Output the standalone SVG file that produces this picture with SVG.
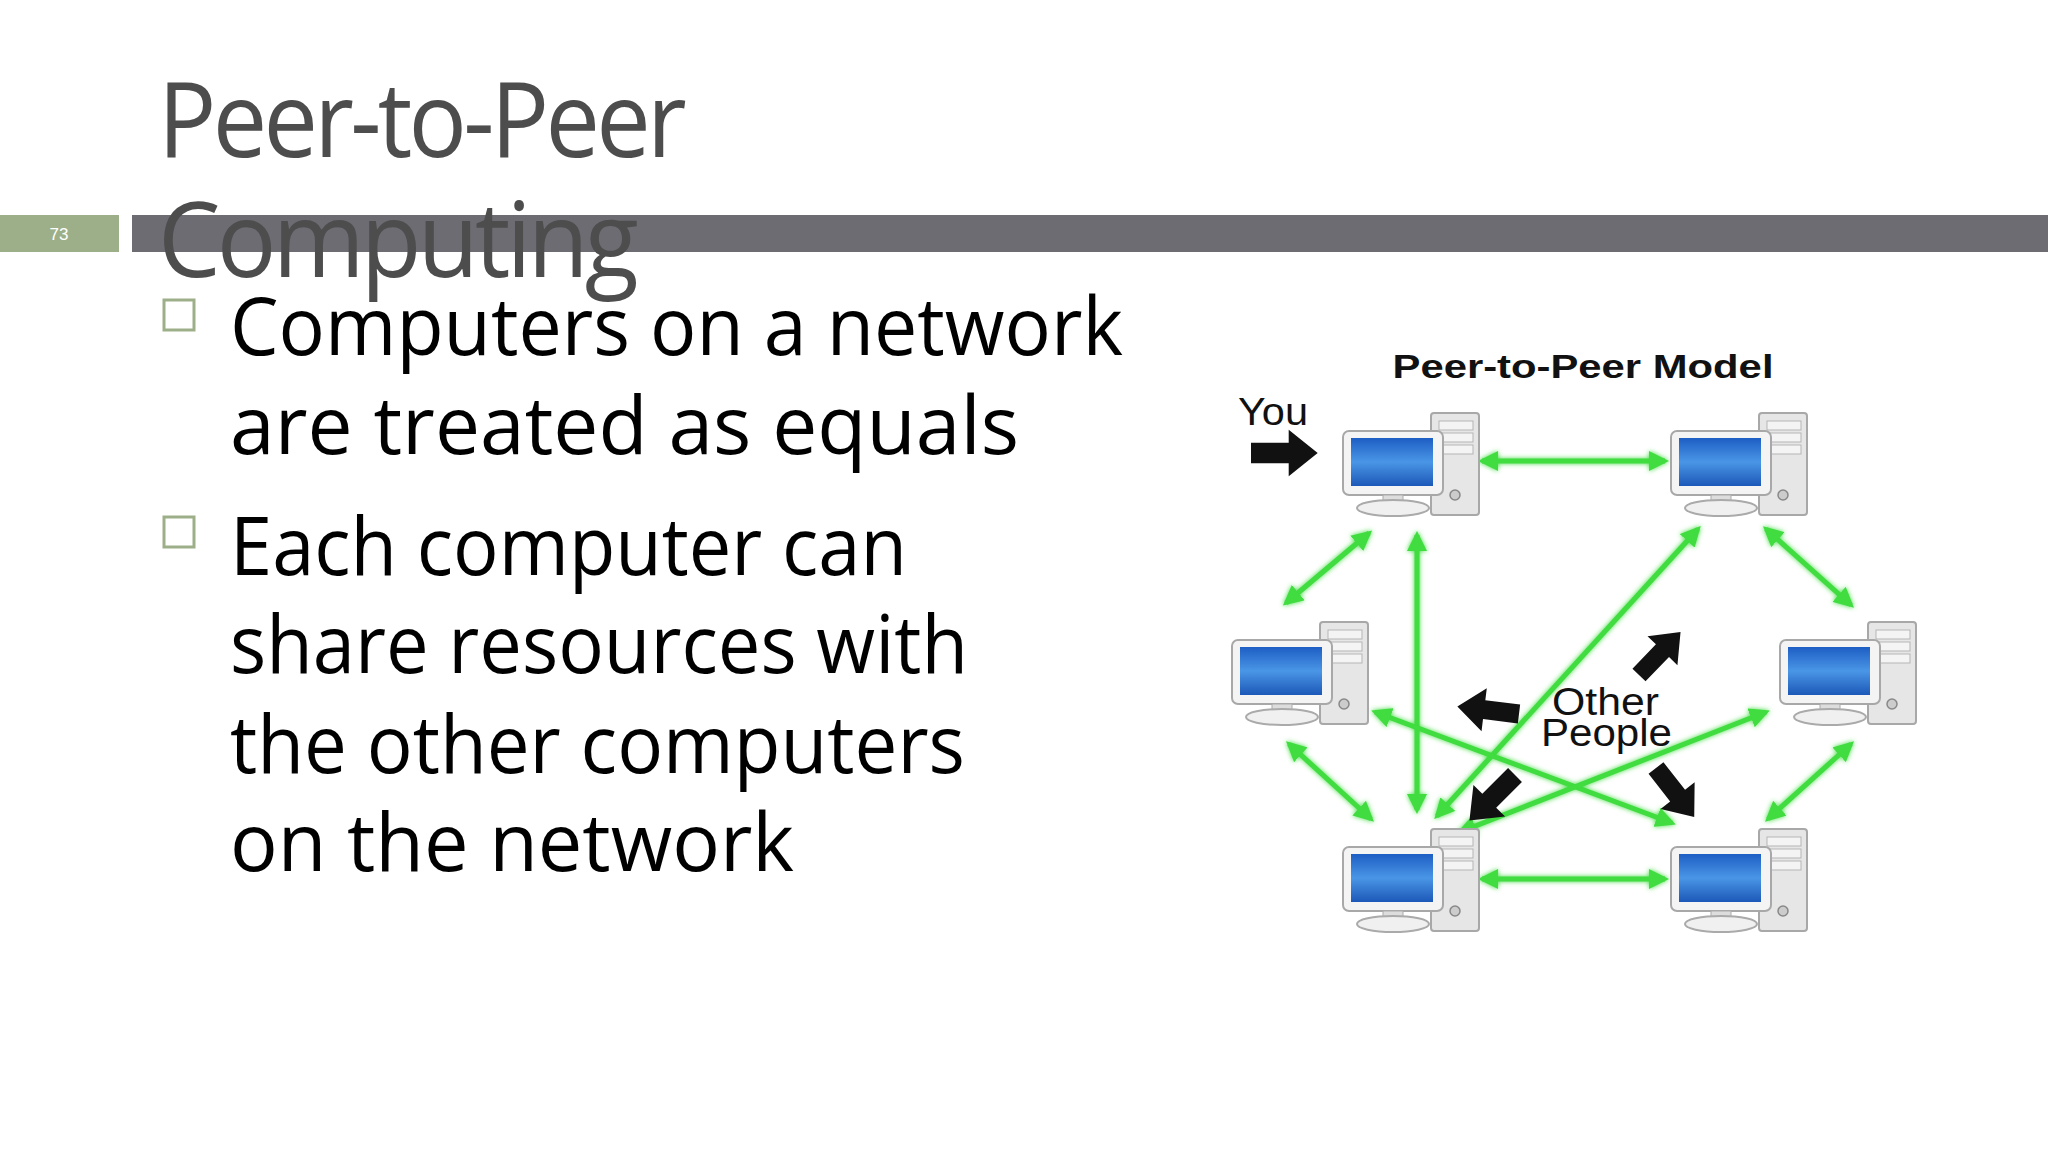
<svg xmlns="http://www.w3.org/2000/svg" width="2048" height="1152" viewBox="0 0 2048 1152">
<style>
.title{font-family:"Open Sans","DejaVu Sans",sans-serif;font-size:104px;fill:#4d4d4d;letter-spacing:-4px}
.body{font-family:"Open Sans","DejaVu Sans",sans-serif;font-size:80px;fill:#000}
.lbl{font-family:"Liberation Sans",Arial,sans-serif;fill:#111}
.g{stroke:#3fdc3f;stroke-width:5;fill:none;marker-start:url(#gh);marker-end:url(#gh)}
.blk{fill:#111}
</style>
<defs>
<marker id="gh" viewBox="0 0 10 10" refX="8" refY="5" markerWidth="4" markerHeight="4" orient="auto-start-reverse"><path d="M0,0 L10,5 L0,10 Z" fill="#3fdc3f"/></marker>
<filter id="glow" x="-20%" y="-20%" width="140%" height="140%"><feGaussianBlur stdDeviation="2.5" result="b"/><feMerge><feMergeNode in="b"/><feMergeNode in="SourceGraphic"/></feMerge></filter>
<linearGradient id="scr" x1="0" y1="0" x2="0" y2="1"><stop offset="0" stop-color="#1d5ec4"/><stop offset="0.5" stop-color="#4a96e6"/><stop offset="1" stop-color="#1c58b8"/></linearGradient>
<path id="fat" d="M0,-7 L26,-7 L26,-16 L46,0 L26,16 L26,7 L0,7 Z"/>
<g id="pc">
<rect x="88" y="0" width="48" height="102" rx="3" fill="#e6e6e6" stroke="#a8a8a8" stroke-width="2"/>
<rect x="96" y="8" width="34" height="9" fill="#f4f4f4" stroke="#b5b5b5"/>
<rect x="96" y="20" width="34" height="9" fill="#f4f4f4" stroke="#b5b5b5"/>
<rect x="96" y="32" width="34" height="9" fill="#f4f4f4" stroke="#b5b5b5"/>
<circle cx="112" cy="82" r="5" fill="#ccc" stroke="#888" stroke-width="1.5"/>
<rect x="0" y="18" width="100" height="64" rx="6" fill="#f4f4f4" stroke="#a8a8a8" stroke-width="2"/>
<rect x="8" y="25" width="82" height="48" fill="url(#scr)"/>
<rect x="40" y="82" width="20" height="8" fill="#ddd" stroke="#aaa"/>
<ellipse cx="50" cy="95" rx="36" ry="8" fill="#f0f0f0" stroke="#aaa" stroke-width="2"/>
</g>
</defs>
<rect width="2048" height="1152" fill="#fff"/>
<g id="header">
<rect x="0" y="215" width="119" height="37" fill="#9caf88"/>
<text x="59" y="240" text-anchor="middle" font-family="Liberation Sans,Arial,sans-serif" font-size="17" fill="#fff">73</text>
<rect x="132" y="215" width="1916" height="37" fill="#6c6c72"/>
<text class="title" x="158" y="157" textLength="525" lengthAdjust="spacingAndGlyphs">Peer-to-Peer</text>
<text class="title" x="158" y="277" textLength="477" lengthAdjust="spacingAndGlyphs">Computing</text>
</g>
<g id="bullets">
<rect x="164" y="300" width="30" height="30" fill="none" stroke="#9caf88" stroke-width="3"/>
<rect x="164" y="517" width="30" height="30" fill="none" stroke="#9caf88" stroke-width="3"/>
<text class="body" x="230" y="355" textLength="893" lengthAdjust="spacingAndGlyphs">Computers on a network</text>
<text class="body" x="230" y="454" textLength="789" lengthAdjust="spacingAndGlyphs">are  treated as equals</text>
<text class="body" x="230" y="575" textLength="677" lengthAdjust="spacingAndGlyphs">Each computer can</text>
<text class="body" x="230" y="673" textLength="738" lengthAdjust="spacingAndGlyphs">share  resources with</text>
<text class="body" x="230" y="773" textLength="735" lengthAdjust="spacingAndGlyphs">the other  computers</text>
<text class="body" x="230" y="871" textLength="564" lengthAdjust="spacingAndGlyphs">on the network</text>
</g>
<g id="connectors" filter="url(#glow)">
<line class="g" x1="1482" y1="461" x2="1665" y2="461"/>
<line class="g" x1="1369" y1="533" x2="1286" y2="603"/>
<line class="g" x1="1417" y1="535" x2="1417" y2="810"/>
<line class="g" x1="1698" y1="529" x2="1437" y2="816"/>
<line class="g" x1="1766" y1="529" x2="1851" y2="605"/>
<line class="g" x1="1375" y1="712" x2="1672" y2="823"/>
<line class="g" x1="1766" y1="712" x2="1460" y2="832"/>
<line class="g" x1="1289" y1="744" x2="1371" y2="819"/>
<line class="g" x1="1851" y1="744" x2="1768" y2="819"/>
<line class="g" x1="1482" y1="879" x2="1665" y2="879"/>
</g>
<g id="pc-tl"><use href="#pc" x="1343" y="413"/></g>
<g id="pc-tr"><use href="#pc" x="1671" y="413"/></g>
<g id="pc-ml"><use href="#pc" x="1232" y="622"/></g>
<g id="pc-mr"><use href="#pc" x="1780" y="622"/></g>
<g id="pc-bl"><use href="#pc" x="1343" y="829"/></g>
<g id="pc-br"><use href="#pc" x="1671" y="829"/></g>
<g id="labels">
<text class="lbl" x="1583" y="378" text-anchor="middle" font-size="34" font-weight="bold" textLength="381" lengthAdjust="spacingAndGlyphs">Peer-to-Peer Model</text>
<text class="lbl" x="1238" y="425" font-size="38" textLength="70" lengthAdjust="spacingAndGlyphs">You</text>
<text class="lbl" x="1552" y="715" font-size="38" textLength="107" lengthAdjust="spacingAndGlyphs">Other</text>
<text class="lbl" x="1541" y="746" font-size="38" textLength="131" lengthAdjust="spacingAndGlyphs">People</text>
</g>
<g id="black-arrows" class="blk">
<use href="#fat" transform="translate(1251,453) scale(1.45)"/>
<use href="#fat" transform="translate(1639,675) rotate(-46) scale(1.3)"/>
<use href="#fat" transform="translate(1519,714) rotate(187) scale(1.35)"/>
<use href="#fat" transform="translate(1515,775) rotate(135) scale(1.4)"/>
<use href="#fat" transform="translate(1656,768) rotate(52) scale(1.35)"/>
</g>
</svg>
